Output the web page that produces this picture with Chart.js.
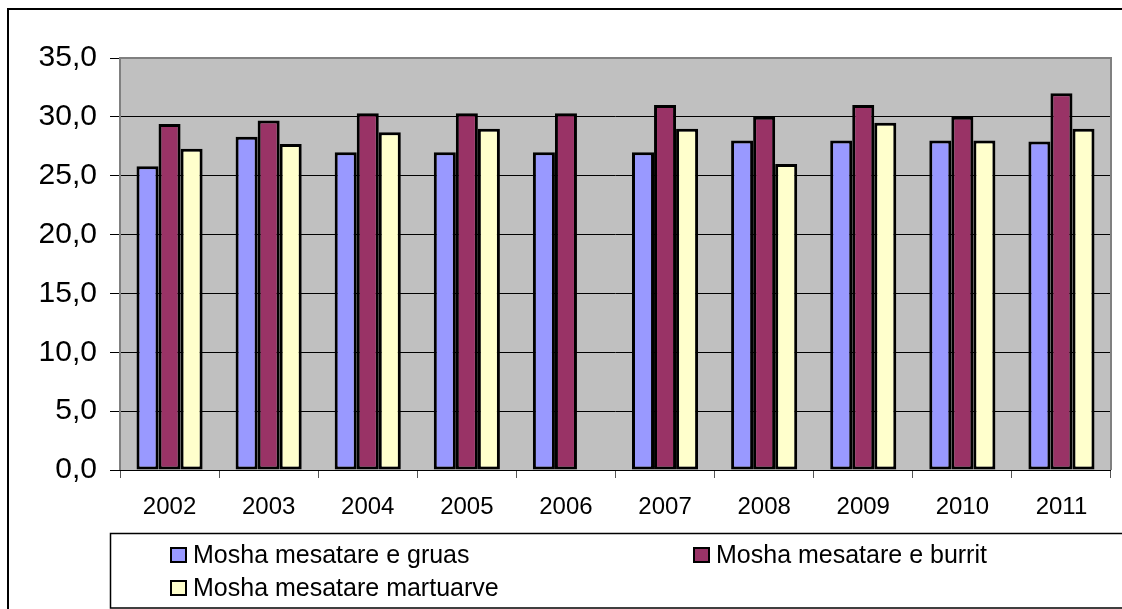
<!DOCTYPE html>
<html>
<head>
<meta charset="utf-8">
<script src="https://cdn.jsdelivr.net/npm/chart.js@4"></script>
<style>
    html, body { margin: 0; padding: 0; background: #fff; }
    #wrap { width: 1122px; height: 609px; position: relative; }
</style>
</head>
<body>
<div id="wrap"><canvas id="ageChart"></canvas></div>
<script>
// ─── Data ────────────────────────────────────────────────────────────────────
const years = ['2002', '2003', '2004', '2005', '2006', '2007', '2008', '2009', '2010', '2011'];
const womenAge = [25.8, 28.3, 27.0, 27.0, 27.0, 27.0, 28.0, 28.0, 28.0, 27.9];
const menAge = [29.4, 29.7, 30.3, 30.3, 30.3, 31.0, 30.0, 31.0, 30.0, 32.0];
const marriedAge = [27.3, 27.7, 28.7, 29.0, null, 29.0, 26.0, 29.5, 28.0, 29.0];
const seriesLabels = ['Mosha mesatare e gruas', 'Mosha mesatare e burrit', 'Mosha mesatare martuarve'];
const yTicks = [0, 5, 10, 15, 20, 25, 30, 35];

const FONT = "'Liberation Sans', Arial, sans-serif";

// ─── Plot background + borders ──────────────────────────────────────────────
const plotFrame = {
    id: 'plotFrame',
    beforeDraw(chart) {
        const { ctx, chartArea: a } = chart;
        ctx.save();
        ctx.fillStyle = '#C0C0C0';
        ctx.fillRect(a.left, a.top, a.right - a.left, a.bottom - a.top);
        ctx.restore();
    },
    afterDatasetsDraw(chart) {
        const { ctx, chartArea: a } = chart;
        ctx.save();
        ctx.strokeStyle = '#808080';
        ctx.lineWidth = 2;
        ctx.beginPath();
        ctx.moveTo(a.left, a.bottom);
        ctx.lineTo(a.left, a.top);
        ctx.lineTo(a.right, a.top);
        ctx.lineTo(a.right, a.bottom);
        ctx.stroke();
        ctx.strokeStyle = '#000';
        ctx.lineWidth = 1;
        ctx.beginPath();
        ctx.moveTo(a.left, a.bottom + 0.5);
        ctx.lineTo(a.right, a.bottom + 0.5);
        ctx.stroke();
        ctx.restore();
    }
};

// ─── Outer frame + boxed legend (two columns) ───────────────────────────────
const boxLegend = {
    id: 'boxLegend',
    afterDraw(chart) {
        const { ctx } = chart;
        ctx.save();
        // outer chart border
        ctx.strokeStyle = '#000';
        ctx.lineWidth = 2;
        ctx.beginPath();
        ctx.moveTo(8, 612);
        ctx.lineTo(8, 9);
        ctx.lineTo(1125, 9);
        ctx.stroke();

        // legend box
        ctx.lineWidth = 1.5;
        ctx.strokeStyle = '#000';
        ctx.strokeRect(110.5, 533.5, 1030, 74.5);

        const slots = [
            { x: 170, y: 547 },
            { x: 693, y: 547 },
            { x: 170, y: 580 }
        ];
        ctx.font = '25px ' + FONT;
        ctx.textBaseline = 'alphabetic';
        ctx.textAlign = 'left';
        chart.data.datasets.forEach((ds, i) => {
            const s = slots[i];
            ctx.fillStyle = ds.backgroundColor;
            ctx.fillRect(s.x, s.y, 17, 16);
            ctx.lineWidth = 2;
            ctx.strokeStyle = '#000';
            ctx.strokeRect(s.x + 1, s.y + 1, 15, 14);
            ctx.fillStyle = '#000';
            ctx.fillText(ds.label, s.x + 23, s.y + 16);
        });
        ctx.restore();
    }
};

new Chart(document.getElementById('ageChart').getContext('2d'), {
    type: 'bar',
    data: {
        labels: years,
        datasets: [
            { label: seriesLabels[0], data: womenAge, backgroundColor: '#9999FF' },
            { label: seriesLabels[1], data: menAge, backgroundColor: '#993366' },
            { label: seriesLabels[2], data: marriedAge, backgroundColor: '#FFFFCC' }
        ].map(d => ({
            ...d,
            borderColor: '#000',
            borderWidth: 3,
            borderSkipped: false,
            categoryPercentage: 0.667,
            barPercentage: 1
        }))
    },
    options: {
        responsive: true,
        maintainAspectRatio: false,
        animation: false,
        layout: { padding: { top: 58, right: 11, left: 0, bottom: 0 } },
        plugins: {
            legend: { display: false },
            tooltip: { enabled: false }
        },
        scales: {
            x: {
                grid: {
                    offset: true,
                    drawOnChartArea: false,
                    drawTicks: true,
                    tickLength: 8,
                    color: '#555',
                    lineWidth: 1
                },
                border: { display: false },
                ticks: {
                    color: '#000',
                    font: { family: FONT, size: 24 },
                    padding: 15,
                    maxRotation: 0
                },
                afterFit(scale) { scale.height = 139; }
            },
            y: {
                min: 0,
                max: 35,
                afterBuildTicks(scale) {
                    scale.ticks = yTicks.map(v => ({ value: v }));
                },
                grid: {
                    color: '#000',
                    lineWidth: 1,
                    tickLength: 10,
                    drawTicks: true
                },
                border: { display: false },
                ticks: {
                    color: '#000',
                    font: { family: FONT, size: 30 },
                    padding: 13,
                    callback: v => v.toFixed(1).replace('.', ',')
                },
                afterFit(scale) { scale.width = 120; }
            }
        }
    },
    plugins: [plotFrame, boxLegend]
});
</script>
</body>
</html>
